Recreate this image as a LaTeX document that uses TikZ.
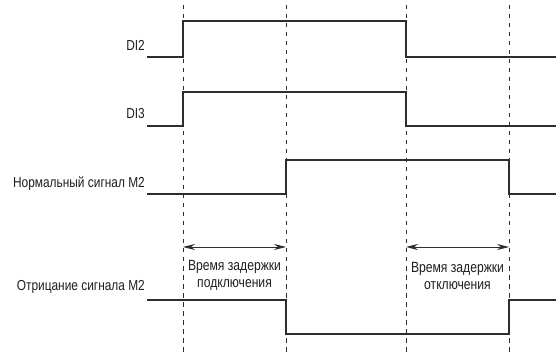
\documentclass[tikz,border=0pt]{standalone}
\usepackage{fontspec}
\setmainfont{Liberation Sans}[FakeStretch=0.82]
\usetikzlibrary{arrows.meta}
\definecolor{sigline}{RGB}{45,45,45}
\definecolor{lblgray}{RGB}{30,30,30}
\tikzset{
  sig/.style={draw=sigline, line width=1.4pt, line join=miter},
  mark line/.style={draw=sigline, line width=0.8pt, dash pattern=on 4.5pt off 4.5pt},
  lbl/.style={anchor=east, inner sep=0pt, text=lblgray, font=\fontsize{14.5}{17}\selectfont},
  dly/.style={align=center, inner sep=0pt, text=lblgray, font=\fontsize{14.8}{17}\selectfont},
  span/.style={{Stealth[length=12pt,width=6pt]}-{Stealth[length=12pt,width=6pt]}, line width=0.9pt, draw=sigline}
}

\begin{document}
\begin{tikzpicture}[x=1pt,y=-1pt]
\useasboundingbox (0,0) rectangle (556,352);
% switching instants
\foreach \n/\x in {ta/183,tb/286,tc/406,td/509}{\coordinate (\n) at (\x,5); \draw[mark line] (\n) -- (\x,352);}
% signal names
\node[lbl] (di2) at (145,45) {DI2};
\node[lbl] (di3) at (145,114) {DI3};
\node[lbl] (norm) at (145,184) {Нормальный сигнал М2};
\node[lbl] (neg) at (145,287) {Отрицание сигнала М2};
% waveforms
\draw[sig] (147,57) -| (ta |- 0,21) -| (tc |- 0,57) -- (556,57);
\draw[sig] (147,126) -| (ta |- 0,92) -| (tc |- 0,126) -- (556,126);
\draw[sig] (147,194) -| (tb |- 0,160) -| (td |- 0,194) -- (556,194);
\draw[sig] (147,300) -| (tb |- 0,334) -| (td |- 0,300) -- (556,300);
% delays
\draw[span] (ta |- 0,247) -- (tb |- 0,247);
\draw[span] (tc |- 0,247) -- (td |- 0,247);
\node[dly] (don) at (234.5,275.5) {Время задержки\\подключения};
\node[dly] (doff) at (457.5,275.5) {Время задержки\\отключения};
\end{tikzpicture}
\end{document}
